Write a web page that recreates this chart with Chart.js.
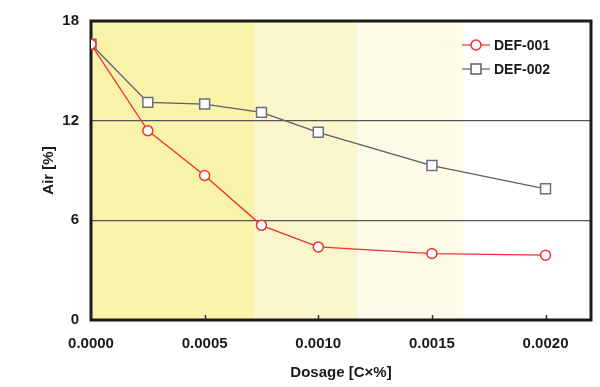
<!DOCTYPE html>
<html>
<head>
<meta charset="utf-8">
<script src="https://cdn.jsdelivr.net/npm/chart.js@4"></script>
<style>
  body { margin: 0; background: #fff; }
  #wrap { width: 600px; height: 387px; }
</style>
</head>
<body>
<div id="wrap"><canvas id="myChart" width="600" height="387"></canvas></div>
<script>
// chart data
const dosage = [0, 0.00025, 0.0005, 0.00075, 0.0010, 0.0015, 0.0020];
const def001 = [16.6, 11.4, 8.7, 5.7, 4.4, 4.0, 3.9];
const def002 = [16.6, 13.1, 13.0, 12.5, 11.3, 9.3, 7.9];
const seriesNames = ['DEF-001', 'DEF-002'];
const yTicks = [0, 6, 12, 18];
const xTicks = [0, 0.0005, 0.0010, 0.0015, 0.0020];
// shaded bands behind the plot (dosage ranges)
const bandEdges = [0, 0.00072, 0.00117, 0.00164];
const bandColors = ['#f9f3a9', '#fbf6cc', '#fefbe7'];

const FONT = '"Liberation Sans", Arial, sans-serif';

function toPoints(xs, ys) {
  return xs.map((x, i) => ({ x: x, y: ys[i] }));
}

// draws bands, frame, inner ticks and the legend
const decorPlugin = {
  id: 'decor',
  beforeDraw(chart) {
    const { ctx, chartArea, scales } = chart;
    ctx.save();
    for (let i = 0; i < bandColors.length; i++) {
      const x0 = scales.x.getPixelForValue(bandEdges[i]);
      const x1 = scales.x.getPixelForValue(bandEdges[i + 1]);
      ctx.fillStyle = bandColors[i];
      ctx.fillRect(x0, chartArea.top, x1 - x0, chartArea.bottom - chartArea.top);
    }
    ctx.restore();
  },
  beforeDatasetsDraw(chart) {
    const { ctx, chartArea, scales } = chart;
    ctx.save();
    // small tick marks pointing up from the x axis
    ctx.strokeStyle = '#333';
    ctx.lineWidth = 1.5;
    xTicks.slice(1).forEach(v => {
      const px = Math.round(scales.x.getPixelForValue(v)) + 0.5;
      ctx.beginPath();
      ctx.moveTo(px, chartArea.bottom);
      ctx.lineTo(px, chartArea.bottom - 5);
      ctx.stroke();
    });
    // frame
    ctx.strokeStyle = '#1a1a1a';
    ctx.lineWidth = 3;
    ctx.strokeRect(chartArea.left, chartArea.top, chartArea.right - chartArea.left, chartArea.bottom - chartArea.top);
    ctx.restore();
  },
  afterDatasetsDraw(chart) {
    const { ctx, chartArea } = chart;
    ctx.save();
    const lx = chartArea.right - 129;
    chart.data.datasets.forEach((ds, i) => {
      const y = chartArea.top + 24 + i * 24;
      ctx.strokeStyle = ds.borderColor;
      ctx.lineWidth = 1.2;
      ctx.beginPath();
      ctx.moveTo(lx, y);
      ctx.lineTo(lx + 28, y);
      ctx.stroke();
      ctx.fillStyle = '#fff';
      ctx.lineWidth = 1.5;
      ctx.beginPath();
      if (ds.pointStyle === 'rect') {
        ctx.rect(lx + 9, y - 5, 10, 10);
      } else {
        ctx.arc(lx + 14, y, 5, 0, Math.PI * 2);
      }
      ctx.fill();
      ctx.stroke();
      ctx.fillStyle = '#1a1a1a';
      ctx.font = 'bold 14px ' + FONT;
      ctx.textBaseline = 'middle';
      ctx.fillText(ds.label, lx + 32, y + 1);
    });
    ctx.restore();
  }
};

const ctx = document.getElementById('myChart').getContext('2d');
const chart = new Chart(ctx, {
  type: 'line',
  data: {
    datasets: [{
      label: seriesNames[0],
      data: toPoints(dosage, def001),
      borderColor: '#f03030',
      borderWidth: 1.3,
      pointStyle: 'circle',
      pointRadius: 5,
      pointBackgroundColor: '#fff',
      pointBorderColor: '#f03030',
      pointBorderWidth: 1.5,
      tension: 0
    }, {
      label: seriesNames[1],
      data: toPoints(dosage, def002),
      borderColor: '#5a5e6e',
      borderWidth: 1.3,
      pointStyle: 'rect',
      pointRadius: 7,
      pointBackgroundColor: '#fff',
      pointBorderColor: '#6a6e7e',
      pointBorderWidth: 1.5,
      tension: 0
    }]
  },
  options: {
    responsive: false,
    animation: false,
    layout: { padding: { left: 36, right: 9, top: 16, bottom: 0 } },
    plugins: {
      legend: { display: false },
      tooltip: { enabled: false }
    },
    scales: {
      x: {
        type: 'linear',
        min: 0,
        max: 0.0022,
        grid: { display: false, drawTicks: false },
        border: { display: false },
        ticks: {
          stepSize: 0.0005,
          includeBounds: false,
          padding: 15,
          color: '#1a1a1a',
          font: { family: FONT, size: 15, weight: 'bold' },
          maxRotation: 0,
          callback: v => v.toFixed(4)
        },
        afterBuildTicks: axis => { axis.ticks = xTicks.map(v => ({ value: v })); },
        title: {
          display: true,
          text: 'Dosage [C×%]',
          color: '#1a1a1a',
          font: { family: FONT, size: 15, weight: 'bold' },
          padding: { top: 2, bottom: 5 }
        },
        afterFit: axis => { axis.height = 67; }
      },
      y: {
        min: 0,
        max: 18,
        grid: {
          drawTicks: false,
          color: c => (c.tick.value === 0 || c.tick.value === 18) ? 'rgba(0,0,0,0)' : '#555',
          lineWidth: 1.3
        },
        border: { display: false },
        ticks: {
          stepSize: 6,
          padding: 12,
          color: '#1a1a1a',
          font: { family: FONT, size: 15, weight: 'bold' }
        },
        afterBuildTicks: axis => { axis.ticks = yTicks.map(v => ({ value: v })); },
        title: {
          display: true,
          text: 'Air [%]',
          color: '#1a1a1a',
          font: { family: FONT, size: 15, weight: 'bold' },
          padding: { top: 4, bottom: 4 }
        },
        afterFit: axis => { axis.width = 55; }
      }
    }
  },
  plugins: [decorPlugin]
});
</script>
</body>
</html>
